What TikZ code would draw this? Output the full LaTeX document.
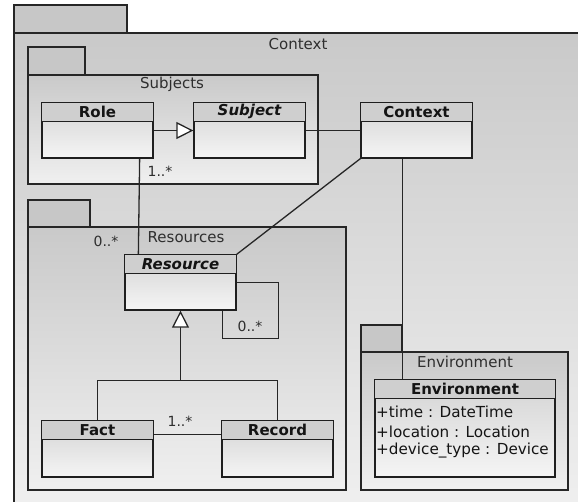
\documentclass[tikz,border=0pt]{standalone}
\usepackage{fontspec}
\setmainfont{DejaVu Sans}
\usetikzlibrary{arrows.meta,calc}
\tikzset{
  pkgtab/.style={draw=black!85, line width=1.1pt, fill=black!22},
  pkgbody/.style={draw=black!85, line width=1.1pt, top color=black!21, bottom color=black!6},
  cls/.style={draw=black!88, line width=1.3pt, inner sep=0pt, rectangle, top color=black!17, bottom color=black!4},
  hdr/.style={fill=black!19, draw=black!88, line width=1.3pt},
  ctitle/.style={font=\bfseries\fontsize{15}{17}\selectfont, inner sep=0pt, text=black!92},
  ptitle/.style={font=\fontsize{15}{17}\selectfont, inner sep=0pt, text=black!82},
  mult/.style={font=\fontsize{14}{16}\selectfont, inner sep=0pt, text=black!82},
  attr/.style={font=\fontsize{15.2}{17}\selectfont, inner sep=0pt, anchor=west, text=black!92},
  conn/.style={draw=black!85, line width=1.3pt},
  gen/.style={conn, -{Triangle[length=17pt,width=17pt,fill=white]}},
}
\newcommand\umlcls[7]{%
  \node[cls, minimum width={(#4)-(#2)}, minimum height={(#5)-(#3)}] (#1) at ({((#2)+(#4))/2},{((#3)+(#5))/2}) {};
  \draw[hdr] (#1.north west) rectangle ($(#1.north east)+(0,19)$);
  \node[ctitle,#7] (#1-t) at ($(#1.north)+(0,9.5)$) {#6};
}
\begin{document}
\begin{tikzpicture}[x=1pt,y=-1pt]
\useasboundingbox (0,0) rectangle (578,501);
\clip (0,0) rectangle (578,501);
\fill[white] (0,0) rectangle (578,501);
% outer package Context
\draw[pkgtab] (14,5) rectangle (127,33);
\draw[pkgbody] (14,33) rectangle (590,515);
\node[ptitle] (ctxlbl) at (298,44) {Context};
% Subjects package
\draw[pkgtab] (28,47) rectangle (85,75);
\draw[pkgbody] (28,75) rectangle (318,184);
\node[ptitle] (sublbl) at (172,84) {Subjects};
% Resources package
\draw[pkgtab] (28,200) rectangle (90,227);
\draw[pkgbody] (28,227) rectangle (346,490);
\node[ptitle] (reslbl) at (186,237) {Resources};
% Environment package
\draw[pkgtab] (361,325) rectangle (402,352);
\draw[pkgbody] (361,352) rectangle (568,490);
\node[ptitle] (envlbl) at (465,362) {Environment};
% classes
\umlcls{role}{42}{103}{153}{158}{Role}{}
\umlcls{subject}{194}{103}{305}{158}{Subject}{font=\bfseries\itshape\fontsize{15}{17}\selectfont}
\umlcls{context}{361}{103}{472}{158}{Context}{}
\umlcls{resource}{125}{255}{236}{310}{Resource}{font=\bfseries\itshape\fontsize{15}{17}\selectfont}
\umlcls{fact}{42}{421}{153}{477}{Fact}{}
\umlcls{record}{222}{421}{333}{477}{Record}{}
\umlcls{env}{375}{380}{555}{477}{Environment}{}
\node[attr] (a1) at (376,412) {+time : DateTime};
\node[attr] (a2) at (376,432) {+location : Location};
\node[attr] (a3) at (376,451) {+device\_type : Device};
% connectors
\draw[gen] (role.east) -- (subject.west);
\draw[conn] (subject.east) -- (context.west);
\draw[conn] ($(role.south east)+(-14,0)$) -- ($(resource.north west)+(14,0)$);
\draw[conn] (context.south west) -- (resource.north east);
\draw[conn] ($(context.south west)+(42,0)$) -- ($(env.north west)+(28,0)$);
\draw[conn] (resource.east) -- ++(42,0) |- ($(resource.south east)+(-14,28)$) -- ($(resource.south east)+(-14,0)$);
\coordinate (gj) at ($(resource.south)+(0,70)$);
\draw[conn] (fact.north) |- (gj) -| (record.north);
\draw[gen] (gj) -- (resource.south);
\draw[conn] ($(fact.north east)+(0,14)$) -- ($(record.north west)+(0,14)$);
% multiplicities
\node[mult] (m1) at (160,171) {1..*};
\node[mult] (m2) at (106,241) {0..*};
\node[mult] (m3) at (250,326) {0..*};
\node[mult] (m4) at (180,421) {1..*};
\end{tikzpicture}
\end{document}
